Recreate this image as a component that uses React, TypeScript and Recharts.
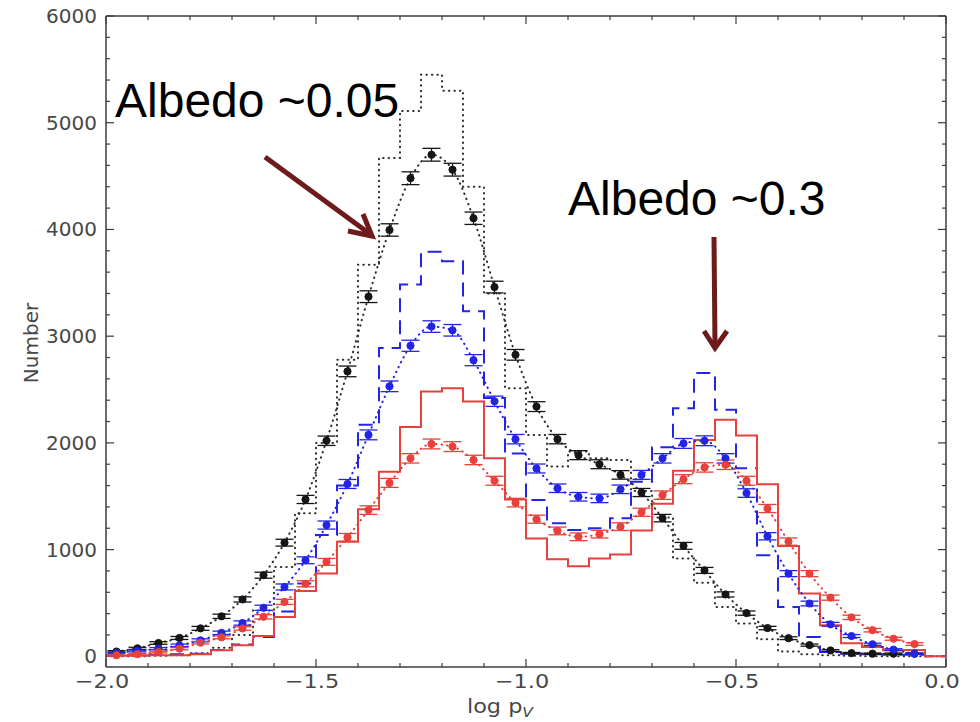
import React from 'react';
import { ComposedChart, Line, XAxis, YAxis, ErrorBar, ReferenceLine } from 'recharts';

// bin centres in log pV (bin width 0.05)
const binCenters = [
  -1.975, -1.925, -1.875, -1.825, -1.775, -1.725, -1.675, -1.625, -1.575, -1.525,
  -1.475, -1.425, -1.375, -1.325, -1.275, -1.225, -1.175, -1.125, -1.075, -1.025,
  -0.975, -0.925, -0.875, -0.825, -0.775, -0.725, -0.675, -0.625, -0.575, -0.525,
  -0.475, -0.425, -0.375, -0.325, -0.275, -0.225, -0.175, -0.125, -0.075, -0.025,
];

// step histograms (one value per bin)
const blackHist = [
  0, 0, 5, 10, 30, 80, 200, 430, 836, 1340, 2000, 2780, 3670, 4670, 5110, 5450, 5300, 4400, 3400, 2513,
  2075, 1778, 1919, 1856, 1840, 1550, 1300, 917, 690, 463, 307, 160, 45, 20, 10, 5, 0, 0, 0, 0,
];
const blueHist = [
  10, 10, 15, 20, 25, 60, 110, 180, 420, 682, 1136, 1600, 2169, 2889, 3484, 3790, 3703, 3233, 2420, 1900,
  1465, 1246, 1183, 1200, 1293, 1637, 1960, 2325, 2654, 2310, 1762, 948, 463, 181, 40, 25, 20, 15, 15, 0,
];
const redHist = [
  5, 5, 10, 10, 20, 56, 103, 190, 369, 613, 776, 1073, 1377, 1730, 2150, 2482, 2513, 2388, 1856, 1470,
  1105, 910, 845, 917, 955, 1180, 1430, 1740, 2028, 2216, 2069, 1612, 1033, 589, 291, 122, 87, 56, 60, 0,
];

// measured points with error bars
const blackPts = [
  45, 75, 125, 172, 262, 375, 533, 760, 1065, 1470, 2020, 2670, 3370, 3995, 4480, 4700, 4560, 4105, 3460, 2825,
  2340, 2035, 1885, 1800, 1700, 1535, 1295, 1035, 805, 580, 405, 265, 170, 105, 55, 30, 25, 25, 25,
];
const bluePts = [
  35, 50, 72, 103, 150, 220, 312, 455, 650, 900, 1230, 1615, 2075, 2530, 2910, 3090, 3055, 2775, 2390, 2035,
  1760, 1575, 1495, 1480, 1565, 1700, 1855, 1995, 2020, 1855, 1530, 1125, 775, 495, 300, 190, 113, 63, 25,
];
const redPts = [
  10, 20, 40, 72, 128, 178, 261, 370, 510, 680, 885, 1115, 1370, 1625, 1855, 1990, 1965, 1840, 1645, 1440,
  1285, 1175, 1120, 1145, 1215, 1350, 1510, 1660, 1770, 1795, 1645, 1385, 1075, 775, 550, 365, 245, 165, 115,
];
const blackErr = [
  8, 10, 12, 14, 18, 20, 24, 28, 32, 38, 44, 50, 55, 58, 60, 60, 60, 58, 55, 50,
  46, 44, 42, 42, 40, 38, 35, 32, 28, 24, 20, 16, 13, 10, 8, 6, 6, 6, 6,
];
const blueErr = [
  6, 8, 10, 12, 14, 16, 20, 24, 28, 32, 38, 42, 46, 50, 52, 54, 54, 52, 48, 44,
  42, 40, 40, 40, 40, 42, 44, 46, 46, 44, 40, 34, 28, 22, 18, 14, 10, 8, 6,
];
const redErr = [
  4, 6, 8, 10, 12, 14, 16, 20, 24, 28, 32, 36, 40, 42, 44, 46, 46, 44, 42, 40,
  38, 36, 36, 36, 36, 38, 40, 42, 44, 44, 42, 38, 34, 28, 24, 20, 16, 14, 12,
];

const xMajor = [-2, -1.5, -1, -0.5, 0];
const xMinor = [-1.9, -1.8, -1.7, -1.6, -1.4, -1.3, -1.2, -1.1, -0.9, -0.8, -0.7, -0.6, -0.4, -0.3, -0.2, -0.1];
const xLabels = ['\u22122.0', '\u22121.5', '\u22121.0', '\u22120.5', '0.0'];
const yMajor = [0, 1000, 2000, 3000, 4000, 5000, 6000];
const yMinor = [
  200, 400, 600, 800, 1200, 1400, 1600, 1800, 2200, 2400, 2600, 2800, 3200, 3400, 3600, 3800,
  4200, 4400, 4600, 4800, 5200, 5400, 5600, 5800,
];

const X_DOMAIN: [number, number] = [-2, 0];
const Y_DOMAIN: [number, number] = [-100, 6000];

// the chart is pulled up over the body margin so its svg starts at the page top
const W = 964;
const H = 722;
const MARGIN = { top: 16, right: 26, left: 0, bottom: 0 };
const Y_AXIS_W = 98;
const X_AXIS_H = 55;
const PLOT_W = W - MARGIN.left - MARGIN.right - Y_AXIS_W;
const PLOT_H = H - MARGIN.top - MARGIN.bottom - X_AXIS_H;

// tick lengths (px) turned into data units so the library scales draw them
const dxPerPx = (X_DOMAIN[1] - X_DOMAIN[0]) / PLOT_W;
const dyPerPx = (Y_DOMAIN[1] - Y_DOMAIN[0]) / PLOT_H;
const MAJOR_LEN = 8;
const MINOR_LEN = 4;

type Seg = [{ x: number; y: number }, { x: number; y: number }];
const tickSegments: Seg[] = [];
[...xMajor, ...xMinor].forEach((v) => {
  const len = (xMajor.includes(v) ? MAJOR_LEN : MINOR_LEN) * dyPerPx;
  tickSegments.push([{ x: v, y: Y_DOMAIN[0] }, { x: v, y: Y_DOMAIN[0] + len }]);
  tickSegments.push([{ x: v, y: Y_DOMAIN[1] }, { x: v, y: Y_DOMAIN[1] - len }]);
});
[...yMajor, ...yMinor].forEach((v) => {
  const len = (yMajor.includes(v) ? MAJOR_LEN : MINOR_LEN) * dxPerPx;
  tickSegments.push([{ x: X_DOMAIN[0], y: v }, { x: X_DOMAIN[0] + len, y: v }]);
  tickSegments.push([{ x: X_DOMAIN[1], y: v }, { x: X_DOMAIN[1] - len, y: v }]);
});

const HALF_BIN = 0.025;
const stepRows = (vals: number[]) => [
  { x: -2, y: 0 },
  ...vals.map((v, i) => ({ x: binCenters[i] - HALF_BIN, y: v })),
  { x: 0, y: 0 },
];

const pointRows = blackPts.map((_, i) => ({
  x: binCenters[i],
  black: blackPts[i],
  blackErr: blackErr[i],
  blue: bluePts[i],
  blueErr: blueErr[i],
  red: redPts[i],
  redErr: redErr[i],
}));

const FRAME = '#3c3c3c';
const TEXT = '#474747';
const FONT = '"DejaVu Sans", sans-serif';
const BLACK = '#151515';
const BLACK_LINE = '#2e2e2e';
const BLUE = '#2424e6';
const RED = '#e8403a';
const DOTTED = '0.5 5';

const XTick = (p: any) => {
  const { x, y, payload } = p;
  const i = xMajor.indexOf(payload.value);
  if (i < 0) return <g />;
  return (
    <text transform={`translate(${x - 4},${y + 21}) scale(1.12,1)`} textAnchor="middle" fontSize={20} fontFamily={FONT} fill={TEXT}>
      {xLabels[i]}
    </text>
  );
};

const YTick = (p: any) => {
  const { x, y, payload } = p;
  return (
    <text x={x - 9} y={y + 7} textAnchor="end" fontSize={20} fontFamily={FONT} fill={TEXT}>
      {payload.value}
    </text>
  );
};

const Dot = (color: string) => (p: any) => {
  if (p.cx == null || p.cy == null) return <g key={p.key} />;
  return <circle key={p.key} cx={p.cx} cy={p.cy} r={3.6} fill={color} stroke={color} strokeWidth={1} />;
};

export default function App() {
  const axisLine = { stroke: FRAME, strokeWidth: 1.5 };
  return (
    <div style={{ position: 'relative', width: W, height: H, marginTop: -8 }}>
      <ComposedChart width={W} height={H} data={pointRows} margin={MARGIN}>
        <XAxis
          dataKey="x"
          type="number"
          domain={X_DOMAIN}
          allowDataOverflow
          ticks={xMajor}
          interval={0}
          tickSize={0}
          tickMargin={0}
          tickLine={false}
          axisLine={axisLine}
          height={X_AXIS_H}
          tick={XTick}
        />
        <YAxis
          type="number"
          domain={Y_DOMAIN}
          allowDataOverflow
          ticks={yMajor}
          interval={0}
          tickSize={0}
          tickMargin={0}
          tickLine={false}
          axisLine={axisLine}
          width={Y_AXIS_W}
          tick={YTick}
        />

        {/* frame top / right and inward ticks */}
        <ReferenceLine y={Y_DOMAIN[1]} stroke={FRAME} strokeWidth={1.5} ifOverflow="visible" />
        <ReferenceLine x={X_DOMAIN[1]} stroke={FRAME} strokeWidth={1.5} ifOverflow="visible" />
        {tickSegments.map((s, i) => (
          <ReferenceLine key={`t${i}`} segment={s} stroke={FRAME} strokeWidth={1.2} ifOverflow="visible" />
        ))}

        {/* histograms */}
        <Line data={stepRows(blackHist)} dataKey="y" type="stepAfter" stroke={BLACK_LINE} strokeWidth={2} strokeDasharray={DOTTED} strokeLinecap="round" dot={false} activeDot={false} isAnimationActive={false} />
        <Line data={stepRows(blueHist)} dataKey="y" type="stepAfter" stroke={BLUE} strokeWidth={2} strokeDasharray="14 8" dot={false} activeDot={false} isAnimationActive={false} />
        <Line data={stepRows(redHist)} dataKey="y" type="stepAfter" stroke={RED} strokeWidth={2} dot={false} activeDot={false} isAnimationActive={false} />

        {/* dotted curves through the points */}
        <Line dataKey="black" type="monotone" stroke={BLACK_LINE} strokeWidth={2} strokeDasharray={DOTTED} strokeLinecap="round" dot={false} activeDot={false} isAnimationActive={false} />
        <Line dataKey="blue" type="monotone" stroke={BLUE} strokeWidth={2} strokeDasharray={DOTTED} strokeLinecap="round" dot={false} activeDot={false} isAnimationActive={false} />
        <Line dataKey="red" type="monotone" stroke={RED} strokeWidth={2} strokeDasharray={DOTTED} strokeLinecap="round" dot={false} activeDot={false} isAnimationActive={false} />

        {/* points with error bars */}
        <Line dataKey="black" stroke="none" dot={Dot(BLACK)} activeDot={false} isAnimationActive={false}>
          <ErrorBar dataKey="blackErr" direction="y" width={9} stroke={BLACK} strokeWidth={1.3} />
        </Line>
        <Line dataKey="blue" stroke="none" dot={Dot(BLUE)} activeDot={false} isAnimationActive={false}>
          <ErrorBar dataKey="blueErr" direction="y" width={9} stroke={BLUE} strokeWidth={1.3} />
        </Line>
        <Line dataKey="red" stroke="none" dot={Dot(RED)} activeDot={false} isAnimationActive={false}>
          <ErrorBar dataKey="redErr" direction="y" width={9} stroke={RED} strokeWidth={1.3} />
        </Line>
      </ComposedChart>

      <svg width={W} height={H} style={{ position: 'absolute', left: 0, top: 0, pointerEvents: 'none' }}>
        <text x={23} y={343} transform="rotate(-90 23 343)" textAnchor="middle" dominantBaseline="central" fontSize={20} fontFamily={FONT} fill={TEXT}>
          Number
        </text>
        <text transform="translate(492,713) scale(1.12,1)" textAnchor="middle" fontSize={20} fontFamily={FONT} fill={TEXT}>
          log p<tspan fontSize={14} fontStyle="italic" dy={4}>V</tspan>
        </text>

        <text x={107} y={117} fontSize={48} fontFamily='"Liberation Sans", Arial, sans-serif' fill="#000">
          Albedo ~0.05
        </text>
        <text x={560} y={215} fontSize={48} fontFamily='"Liberation Sans", Arial, sans-serif' fill="#000">
          Albedo ~0.3
        </text>

        <g stroke="#6e1b1b" strokeWidth={5} fill="none" strokeLinejoin="miter">
          <line x1={257} y1={157} x2={362} y2={234} />
          <polyline points="340,231 364,236 355,214" />
          <line x1={706} y1={237} x2={707} y2={346} />
          <polyline points="696,331 707,348 719,331" />
        </g>
      </svg>
    </div>
  );
}
